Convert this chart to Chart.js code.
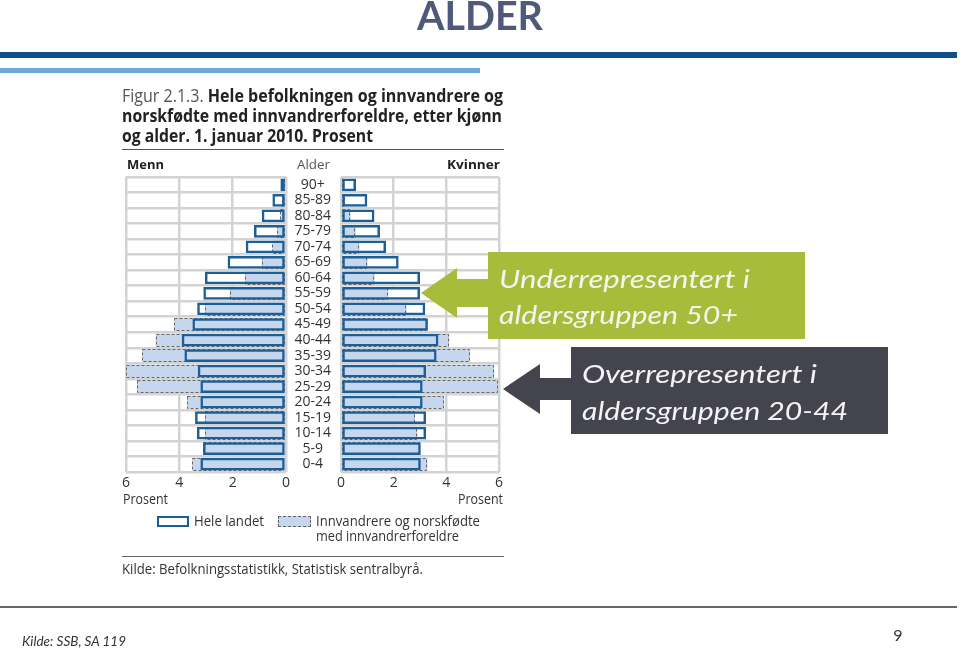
<!DOCTYPE html>
<html><head><meta charset="utf-8">
<script src="https://cdn.jsdelivr.net/npm/chart.js@4.4.0/dist/chart.umd.min.js"></script>
<style>
html,body{margin:0;padding:0;background:#fff;width:960px;height:651px;overflow:hidden;position:relative;}
.t{position:absolute;white-space:nowrap;line-height:1;transform-origin:0 0;z-index:3;}
.r{position:absolute;}
canvas{position:absolute;z-index:1;}
svg{z-index:2;}
</style></head><body>
<div class="r" style="left:0;top:52px;width:957px;height:6px;background:#0e4f8c"></div>
<div class="r" style="left:0;top:68px;width:480px;height:5px;background:#6aaad9"></div>
<div class="r" style="left:122px;top:149px;width:382px;height:1px;background:#555"></div>
<div class="r" style="left:122px;top:556px;width:382px;height:1px;background:#666"></div>
<div class="r" style="left:0;top:606px;width:957px;height:2px;background:#6e6560"></div>
<div class="r" style="left:157px;top:516px;width:32px;height:11px;box-sizing:border-box;border:2.5px solid #1b5f98;background:#fff"></div>
<div class="r" style="left:278px;top:516px;width:33px;height:11px;box-sizing:border-box;border:1px dashed #666;background:#c6d7ed"></div>
<canvas id="cm" width="184" height="365"></canvas>
<canvas id="cw" width="237" height="365"></canvas>
<svg class="r" style="left:0;top:0" width="960" height="651">
<polygon fill="#a8bc3c" points="421,293 457,268 457,279 488,279 488,252 805,252 805,339 488,339 488,307 457,307 457,318"/>
<polygon fill="#44444f" points="503,389 540,364 540,378 571,378 571,347 888,347 888,434 571,434 571,400 540,400 540,414"/>
</svg>
<script>
const ageGroups = ['90+','85-89','80-84','75-79','70-74','65-69','60-64','55-59','50-54','45-49','40-44','35-39','30-34','25-29','20-24','15-19','10-14','5-9','0-4'];
const menTotal = [0.21,0.51,0.91,1.2,1.51,2.19,3.04,3.1,3.33,3.51,3.91,3.81,3.31,3.21,3.21,3.41,3.34,3.11,3.21];
const menImmigrant = [0.08,0.16,0.21,0.33,0.51,0.91,1.54,2.11,3.04,4.19,4.89,5.39,6.0,5.59,3.71,3.04,3.04,3.1,3.51];
const womenTotal = [0.57,1.0,1.27,1.48,1.71,2.19,3.0,3.0,3.2,3.3,3.7,3.63,3.23,3.1,3.1,3.23,3.23,3.03,3.03];
const womenImmigrant = [0.08,0.15,0.37,0.56,0.7,1.01,1.28,1.8,2.49,3.28,4.11,4.9,5.82,5.97,3.92,2.81,2.9,3.0,3.28];
const xTicks = [0,2,4,6];

const BLUE='#1b5f98', LIGHT='#c6d7ed', GRID='#d3d3d3';
Chart.defaults.font.family='"Open Sans", sans-serif';

const dashPlugin={id:'dash',afterDatasetDraw(chart,args){
  if(args.index!==1) return;
  const ctx=chart.ctx; ctx.save(); ctx.setLineDash([3,2]); ctx.strokeStyle='#666'; ctx.lineWidth=1;
  args.meta.data.forEach(el=>{
    const p=el.getProps(['x','y','base','height'],true);
    const l=Math.min(p.x,p.base), r=Math.max(p.x,p.base);
    ctx.strokeRect(Math.round(l)+0.5, Math.round(p.y-p.height/2)+0.5, Math.round(r-l)-1, Math.round(p.height)-1);
  });
  ctx.restore();
}};

function makeChart(id,total,imm,reverse,showLabels,areaLeft){
  const cv=document.getElementById(id);
  const ch=new Chart(cv,{
    type:'bar',
    data:{labels:ageGroups,datasets:[
      {data:total,backgroundColor:'rgba(0,0,0,0)',borderColor:BLUE,borderWidth:2.5,borderSkipped:false,order:0},
      {data:imm,backgroundColor:LIGHT,borderWidth:0,order:1},
      {data:total,backgroundColor:'#ffffff',borderWidth:0,order:2}
    ]},
    options:{
      indexAxis:'y',responsive:false,animation:false,events:[],
      layout:{padding:{left:12,right:12,top:30,bottom:10}},
      datasets:{bar:{grouped:false,barPercentage:0.82,categoryPercentage:1}},
      plugins:{legend:{display:false},tooltip:{enabled:false}},
      scales:{
        x:{min:0,max:6,reverse:reverse,
           afterBuildTicks:s=>{s.ticks=xTicks.map(v=>({value:v}));},
           ticks:{font:{size:14},color:'#333',padding:3,maxRotation:0,autoSkip:false},
           grid:{color:GRID,lineWidth:2.5,drawTicks:false},border:{display:false},
           afterFit:s=>{s.height=30;}},
        y:{ticks:{display:showLabels,crossAlign:'center',padding:10,font:{size:14},color:'#333',autoSkip:false},
           grid:{color:GRID,lineWidth:2.5,drawTicks:false,offset:true},border:{display:false},
           afterFit:s=>{s.width=showLabels?55:0;}}
      }
    },
    plugins:[dashPlugin]
  });
  cv.style.left=(areaLeft-ch.chartArea.left)+'px';
  cv.style.top=(177-ch.chartArea.top)+'px';
  return ch;
}
makeChart('cm',menTotal,menImmigrant,true,false,126);
makeChart('cw',womenTotal,womenImmigrant,false,true,341);

const K={'Open Sans':0.888,'Lato':0.887};
function txt(html,x,base,o){
  const d=document.createElement('div'); d.className='t';
  d.innerHTML=html;
  d.style.fontFamily='"'+o.font+'"'; d.style.fontSize=o.size+'px';
  d.style.fontWeight=o.weight||400; d.style.fontStyle=o.style||'normal';
  d.style.color=o.color||'#333';
  document.body.appendChild(d);
  d.style.top=(base-K[o.font]*o.size)+'px';
  const w=d.getBoundingClientRect().width;
  const sx=o.width?o.width/w:1;
  const aw=w*sx;
  const left=o.align==='center'?x-aw/2:o.align==='right'?x-aw:x;
  d.style.left=left+'px';
  d.style.transform='scaleX('+sx+')';
}
txt('ALDER',480,30,{font:'Lato',size:40,weight:700,color:'#4f597b',align:'center',width:126});
txt('<span style="font-weight:400;color:#555">Figur 2.1.3. </span>Hele befolkningen og innvandrere og',122,102,{font:'Open Sans',size:18,weight:700,color:'#222',width:381});
txt('norskfødte med innvandrerforeldre, etter kjønn',122,122,{font:'Open Sans',size:18,weight:700,color:'#222',width:380});
txt('og alder. 1. januar 2010. Prosent',122,142,{font:'Open Sans',size:18,weight:700,color:'#222',width:251});
txt('Menn',127,170,{font:'Open Sans',size:13,weight:700,color:'#222',width:37});
txt('Alder',313,170,{font:'Open Sans',size:13,color:'#555',align:'center',width:33});
txt('Kvinner',500,170,{font:'Open Sans',size:13,weight:700,color:'#222',align:'right',width:53});
txt('Prosent',123,504,{font:'Open Sans',size:14,color:'#333',width:45});
txt('Prosent',503,504,{font:'Open Sans',size:14,color:'#333',align:'right',width:45});
txt('Hele landet',194,526,{font:'Open Sans',size:14,color:'#333',width:70});
txt('Innvandrere og norskfødte',316,526,{font:'Open Sans',size:14,color:'#333',width:164});
txt('med innvandrerforeldre',316,541,{font:'Open Sans',size:14,color:'#333',width:143});
txt('Kilde: Befolkningsstatistikk, Statistisk sentralbyrå.',122,574,{font:'Open Sans',size:14,color:'#333',width:301});
txt('Underrepresentert i',499,288,{font:'Lato',size:25,style:'italic',color:'#f3f5ee',width:251});
txt('aldersgruppen 50+',499,324,{font:'Lato',size:25,style:'italic',color:'#f3f5ee',width:239});
txt('Overrepresentert i',582,383,{font:'Lato',size:25,style:'italic',color:'#f4f4f6',width:235});
txt('aldersgruppen 20-44',582,420,{font:'Lato',size:25,style:'italic',color:'#f4f4f6',width:266});
txt('Kilde: SSB, SA 119',22,647,{font:'Lato',size:13,style:'italic',color:'#333',width:104});
txt('9',898,641,{font:'Lato',size:16,color:'#333',align:'center'});
</script>
</body></html>
